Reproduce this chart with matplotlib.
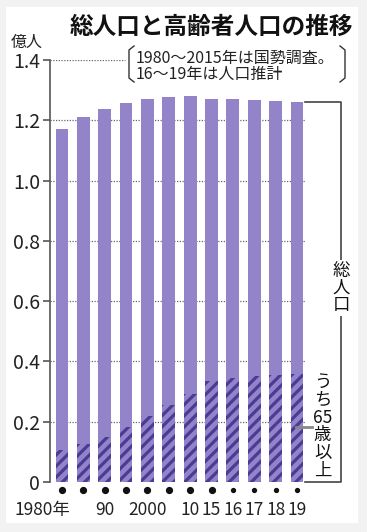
import matplotlib
matplotlib.use("Agg")
import matplotlib.pyplot as plt
from matplotlib.patches import Rectangle
from matplotlib.lines import Line2D

plt.rcParams['font.family'] = ['Noto Sans CJK JP', 'DejaVu Sans']
plt.rcParams['hatch.linewidth'] = 2.3

# data (億人)
years = ['1980', '85', '90', '95', '2000', '05', '10', '15', '16', '17', '18', '19']
year_labels = ['1980年', '', '90', '', '2000', '', '10', '15', '16', '17', '18', '19']
total_pop = [1.171, 1.210, 1.236, 1.256, 1.269, 1.278, 1.281, 1.271, 1.269, 1.267, 1.264, 1.262]
elderly_pop = [0.106, 0.125, 0.149, 0.183, 0.220, 0.257, 0.293, 0.335, 0.346, 0.352, 0.356, 0.359]
census = [True] * 8 + [False] * 4
yticks = [0, 0.2, 0.4, 0.6, 0.8, 1.0, 1.2, 1.4]
ytick_labels = ['0', '0.2', '0.4', '0.6', '0.8', '1.0', '1.2', '1.4']

W, H = 367, 532
light = '#9384ca'
dark = '#4a3b95'
grey = '#555555'

fig = plt.figure(figsize=(W / 100, H / 100), dpi=100, facecolor='#f2f2f2')
fig.patches.append(Rectangle((6 / W, 1 - 523 / H), 352 / W, 516 / H,
                             transform=fig.transFigure, facecolor='white',
                             edgecolor='none', zorder=-10))

ax = fig.add_axes([50 / W, 50 / H, 255 / W, 422 / H])
ax.set_facecolor('none')
x = list(range(len(years)))

ax.bar(x, total_pop, width=0.6, color=light, zorder=2)
ax.bar(x, elderly_pop, width=0.6, facecolor=light, edgecolor=dark,
       hatch='///', linewidth=0, zorder=3)

ax.set_xlim(-0.562, 11.376)
ax.set_ylim(0, 1.4)

for v in yticks[1:-1]:
    ax.axhline(v, color='#666666', lw=0.9, ls=(0, (1, 1.2)), zorder=1)
ax.axhline(1.4, xmax=0.294, color='#666666', lw=0.9, ls=(0, (1, 1.2)), zorder=1)

for s in ['top', 'right', 'bottom']:
    ax.spines[s].set_visible(False)
ax.spines['left'].set_color(grey)
ax.spines['left'].set_linewidth(1.2)
ax.set_yticks(yticks)
ax.set_yticklabels(ytick_labels)
ax.tick_params(axis='y', length=5, width=1.2, color=grey, labelsize=14,
               labelcolor='#222222', pad=2)
ax.set_xticks([])

# dots under the bars and year labels
for i in x:
    ax.plot(i, -0.027, 'o', color='#111111', ms=4.2 if census[i] else 2.8,
            clip_on=False, zorder=4)
for i, lab in enumerate(year_labels):
    if not lab:
        continue
    if i == 0:
        ax.text(i + 0.4, -0.093, lab, ha='right', va='center', fontsize=12.5,
                color='#222222', clip_on=False)
    else:
        ax.text(i, -0.093, lab, ha='center', va='center', fontsize=12.5,
                color='#222222', clip_on=False)

# bracket on the right
bx = 13.06
ax.add_line(Line2D([11.376, bx, bx, 11.376], [total_pop[-1], total_pop[-1], 0, 0],
                   color='#444444', lw=1.2, clip_on=False))
ax.text(bx, 0.644, '総\n人\n口', ha='center', va='center', fontsize=12.5,
        linespacing=0.95, color='#111111', clip_on=False,
        bbox=dict(facecolor='white', edgecolor='none', pad=1))
ax.text(12.2, 0.184, 'う\nち\n65\n歳\n以\n上', ha='center', va='center',
        fontsize=12.5, linespacing=0.98, color='#111111', clip_on=False)
ax.add_line(Line2D([10.95, 11.7], [0.182, 0.182], color='#888888', lw=2,
                   clip_on=False, zorder=5))

# titles and notes
fig.text(211 / W, 1 - 27 / H, '総人口と高齢者人口の推移', ha='center', va='center',
         fontsize=17, fontweight='bold', color='#111111')
fig.text(27 / W, 1 - 42 / H, '億人', ha='center', va='center', fontsize=11.5,
         color='#222222')
fig.text(136 / W, 1 - 66.5 / H, '1980～2015年は国勢調査。\n16～19年は人口推計',
         ha='left', va='center', fontsize=11.5, linespacing=0.92, color='#222222')
for pts in ([(134, 46), (129, 50), (129, 78), (134, 82)],
            [(340, 46), (345, 50), (345, 78), (340, 82)]):
    fig.add_artist(Line2D([p[0] / W for p in pts], [1 - p[1] / H for p in pts],
                          transform=fig.transFigure, color='#333333', lw=1))

fig.savefig('out.png', dpi=100, facecolor=fig.get_facecolor())
